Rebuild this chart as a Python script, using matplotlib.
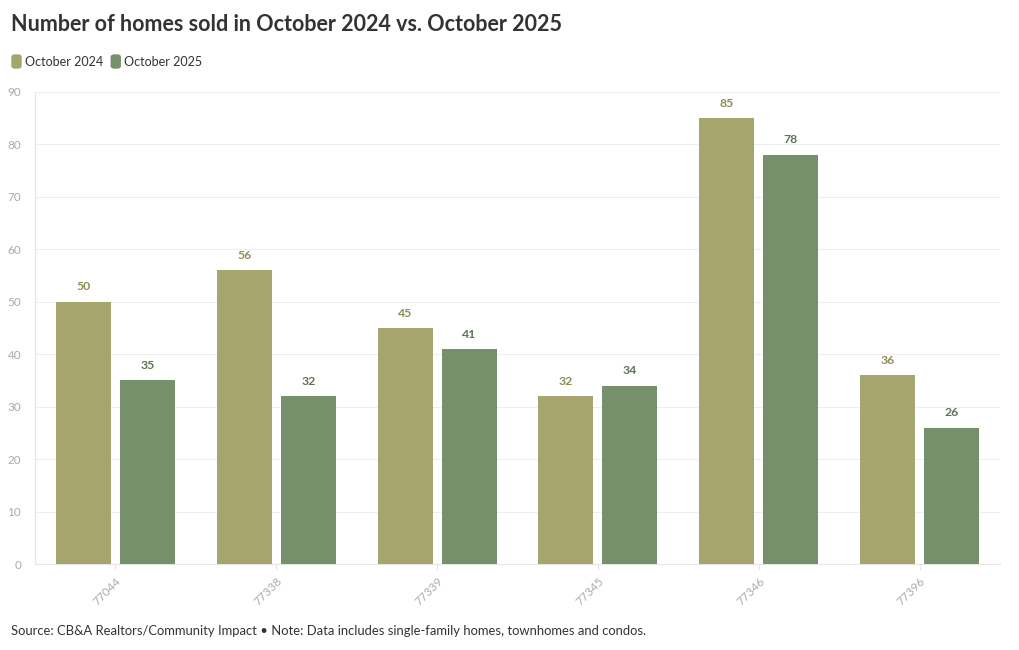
import matplotlib.pyplot as plt
import numpy as np
from matplotlib.patches import FancyBboxPatch

plt.rcParams['font.family'] = ['Lato', 'DejaVu Sans']

zips = ['77044', '77338', '77339', '77345', '77346', '77396']
oct_2024 = [50, 56, 45, 32, 85, 36]
oct_2025 = [35, 32, 41, 34, 78, 26]
series_names = ['October 2024', 'October 2025']

col_24 = '#a6a56d'
col_25 = '#76906b'
lab_24 = '#8e8d55'
lab_25 = '#5e7453'

fig = plt.figure(figsize=(10.2, 6.5), dpi=100)
ax = fig.add_axes([0.0343, 0.1323, 0.9461, 0.7262])

x = np.arange(len(zips))
w = 0.342
off = 0.199
b1 = ax.bar(x - off, oct_2024, width=w, color=col_24, zorder=3)
b2 = ax.bar(x + off, oct_2025, width=w, color=col_25, zorder=3)
for bars, vals, c in ((b1, oct_2024, lab_24), (b2, oct_2025, lab_25)):
    for b, v in zip(bars, vals):
        ax.text(b.get_x() + b.get_width() / 2, v + 1.8, str(v), ha='center', va='bottom',
                fontsize=8.8, fontweight='bold', color=c)

ax.set_xlim(-0.5, len(zips) - 0.5)
ax.set_ylim(0, 90)
ax.set_yticks(range(0, 91, 10))
ax.set_xticks(x)
ax.set_xticklabels(zips, rotation=45, ha='right', rotation_mode='anchor')
ax.tick_params(axis='x', colors='#aaaaaa', labelsize=8.5, length=4, color='#e6e6e6', pad=4)
ax.tick_params(axis='y', colors='#aaaaaa', labelsize=8.5, length=0, pad=10)
ax.grid(axis='y', color='#eeeeee', linewidth=0.8, zorder=0)
for s in ['top', 'right']:
    ax.spines[s].set_visible(False)
ax.spines['left'].set_color('#e6e6e6')
ax.spines['bottom'].set_color('#e6e6e6')

fig.text(0.011, 0.962, 'Number of homes sold in October 2024 vs. October 2025',
         fontsize=15.5, fontweight='bold', color='#333333', va='center')

# legend
lx = 12 / 1020
for name, c in zip(series_names, [col_24, col_25]):
    fig.patches.append(FancyBboxPatch((lx, 1 - 68 / 650), 9 / 1020, 13 / 650,
                                      boxstyle='round,pad=0,rounding_size=0.003',
                                      transform=fig.transFigure, color=c))
    t = fig.text(lx + 13 / 1020, 1 - 62 / 650, name, fontsize=9, color='#333333', va='center')
    fig.canvas.draw()
    bb = t.get_window_extent()
    lx = bb.x1 / 1020 + 8 / 1020

fig.text(0.011, 1 - 631 / 650,
         'Source: CB&A Realtors/Community Impact \u2022 Note: Data includes single-family homes, townhomes and condos.',
         fontsize=9.4, color='#333333', va='center')

fig.savefig('out.png', dpi=100)
